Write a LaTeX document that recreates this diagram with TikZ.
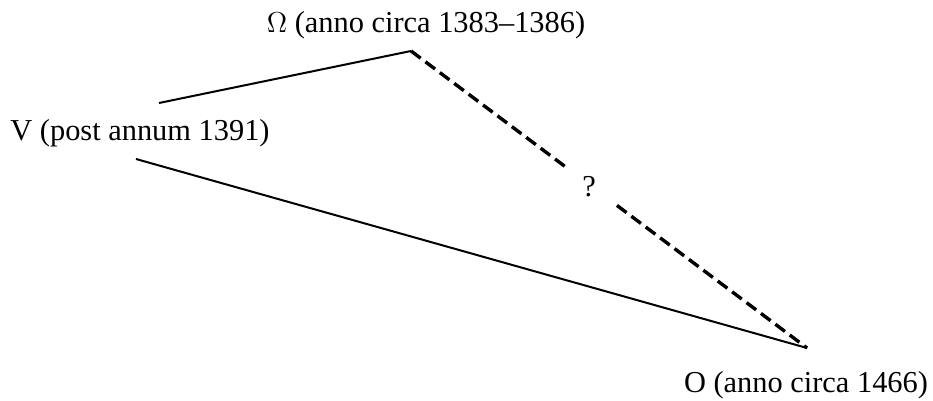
\documentclass[tikz,border=0pt]{standalone}
\usepackage{fontspec}
\setmainfont{Liberation Serif}
\usetikzlibrary{calc}
\begin{document}
\begin{tikzpicture}[x=0.5pt,y=-0.5pt,
  lbl/.style={inner sep=0pt,font=\fontsize{15.2}{18}\selectfont},
  solidline/.style={line width=1pt},
  dashline/.style={line width=1.7pt,dash pattern=on 6pt off 3pt}]
\useasboundingbox (0,0) rectangle (933,401);
\node[lbl] (om) at (426,25) {$\Omega$ (anno circa 1383--1386)};
\node[lbl] (v) at (140,133) {V (post annum 1391)};
\node[lbl] (o) at (806,385) {O (anno circa 1466)};
\node[lbl] (q) at (589,187) {?};
\coordinate (apex) at (411,51);
\coordinate (vt) at (159,103);
\coordinate (vb) at (136,159);
\coordinate (ob) at (807,348);
\draw[solidline] (vt) -- (apex);
\draw[solidline] (vb) -- (ob);
\draw[dashline] (apex) -- ($(apex)!0.394!(ob)$);
\draw[dashline] ($(apex)!0.52!(ob)$) -- (ob);
\end{tikzpicture}
\end{document}
